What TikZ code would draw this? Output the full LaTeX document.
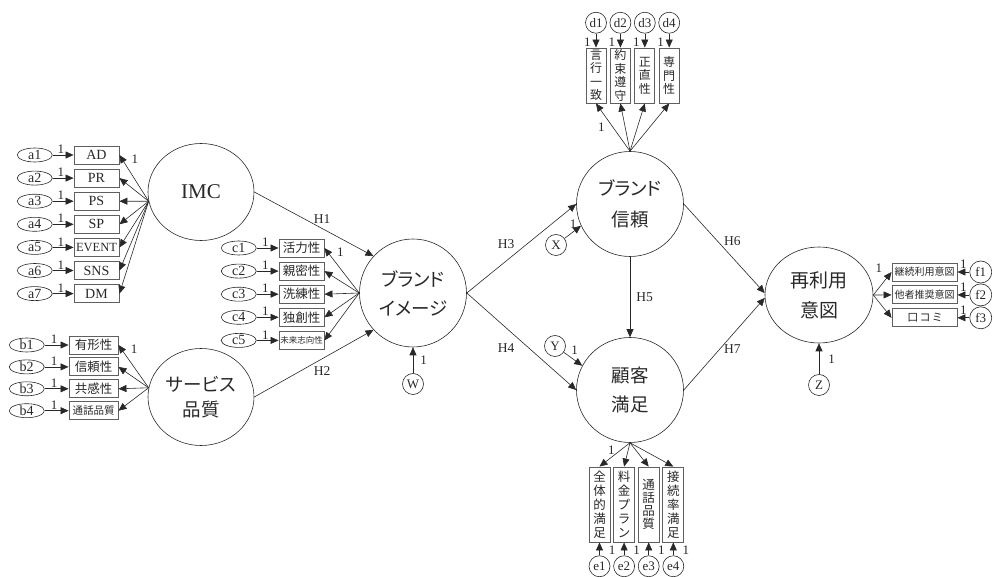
\documentclass[tikz,border=0pt]{standalone}
\usepackage{fontspec}
\setmainfont{Liberation Serif}
\newfontfamily\jp[RawFeature=+palt]{Noto Sans CJK JP}
\usetikzlibrary{arrows.meta, positioning, shapes.geometric}
\definecolor{inkgray}{RGB}{40,40,40}
\definecolor{boxgray}{RGB}{95,95,95}

\begin{document}
\begin{tikzpicture}[
    x=1pt, y=-1pt,
    >={Triangle[length=8pt,width=7pt]},
    every node/.style={text=inkgray},
    latent/.style={ellipse, draw=inkgray, line width=0.6pt, inner sep=0pt, align=center, font=\fontsize{21}{21}\selectfont},
    latentjp/.style={latent, font=\jp\fontsize{18.5}{29}\selectfont},
    obsbox/.style={draw=boxgray, line width=0.9pt, minimum width=45pt, minimum height=18pt, inner sep=1pt, font=\fontsize{14}{14}\selectfont},
    jpbox/.style={obsbox, font=\jp\fontsize{12.5}{13}\selectfont},
    vbox/.style={draw=boxgray, line width=0.9pt, minimum width=20pt, inner sep=1pt, align=center, font=\jp\fontsize{12}{13.5}\selectfont},
    errell/.style={ellipse, draw=inkgray, line width=0.6pt, minimum width=35pt, minimum height=14pt, inner sep=0pt, font=\fontsize{14}{14}\selectfont},
    errcirc/.style={circle, draw=inkgray, line width=0.6pt, minimum size=21pt, inner sep=0pt, font=\fontsize{13}{13}\selectfont},
    link/.style={->, draw=inkgray, line width=0.6pt},
    one/.style={font=\fontsize{13}{13}\selectfont, inner sep=1pt},
    hyp/.style={font=\fontsize{13.5}{13.5}\selectfont, inner sep=1pt},
]
\useasboundingbox (0,0) rectangle (994,577);

% === Latent variables ===
\node[latent, minimum width=106pt, minimum height=97pt] (imc) at (201,192) {IMC};
\node[latentjp, minimum width=106pt, minimum height=97pt, font=\jp\fontsize{18.5}{25}\selectfont] (svc) at (201,397) {サービス\\品質};
\node[latentjp, minimum width=107pt, minimum height=108pt] (bimg) at (413,293) {ブランド\\イメージ};
\node[latentjp, minimum width=107pt, minimum height=105pt, font=\jp\fontsize{18.5}{31}\selectfont] (trust) at (630,204) {ブランド\\信頼};
\node[latentjp, minimum width=107pt, minimum height=105pt] (sat) at (630,390) {顧客\\満足};
\node[latentjp, minimum width=108pt, minimum height=96pt, font=\jp\fontsize{19}{30}\selectfont] (reuse) at (819,295) {再利用\\意図};

% === IMC indicators ===
\node[obsbox] (ad) at (96.5,155) {AD};
\node[obsbox, below=4.2pt of ad] (pr) {PR};
\node[obsbox, below=4.2pt of pr] (ps) {PS};
\node[obsbox, below=4.2pt of ps] (sp) {SP};
\node[obsbox, below=4.2pt of sp, font=\fontsize{12.5}{12.5}\selectfont] (event) {EVENT};
\node[obsbox, below=4.2pt of event] (sns) {SNS};
\node[obsbox, below=4.2pt of sns] (dm) {DM};
\node[errell, left=21pt of ad] (a1) {a1};
\node[errell, left=21pt of pr] (a2) {a2};
\node[errell, left=21pt of ps] (a3) {a3};
\node[errell, left=21pt of sp] (a4) {a4};
\node[errell, left=21pt of event] (a5) {a5};
\node[errell, left=21pt of sns] (a6) {a6};
\node[errell, left=21pt of dm] (a7) {a7};

% === Service quality indicators ===
\node[jpbox, minimum width=49pt] (tangible) at (93.5,345) {有形性};
\node[jpbox, minimum width=49pt, below=3pt of tangible] (reliab) {信頼性};
\node[jpbox, minimum width=49pt, below=3pt of reliab] (empathy) {共感性};
\node[jpbox, minimum width=49pt, below=3pt of empathy, font=\jp\fontsize{10.5}{11}\selectfont] (callq) {通話品質};
\node[errell, left=24pt of tangible] (b1) {b1};
\node[errell, left=24pt of reliab] (b2) {b2};
\node[errell, left=24pt of empathy] (b3) {b3};
\node[errell, left=24pt of callq] (b4) {b4};

% === Brand image indicators ===
\node[jpbox] (vital) at (301.5,248) {活力性};
\node[jpbox, below=4.2pt of vital] (intim) {親密性};
\node[jpbox, below=4.2pt of intim] (refine) {洗練性};
\node[jpbox, below=4.2pt of refine] (origin) {独創性};
\node[jpbox, below=4.2pt of origin, font=\jp\fontsize{8.5}{9}\selectfont] (future) {未来志向性};
\node[errell, left=22pt of vital] (c1) {c1};
\node[errell, left=22pt of intim] (c2) {c2};
\node[errell, left=22pt of refine] (c3) {c3};
\node[errell, left=22pt of origin] (c4) {c4};
\node[errell, left=22pt of future] (c5) {c5};

% === Brand trust indicators (top) ===
\node[vbox, minimum height=55pt] (consist) at (596,75.5) {言\\行\\一\\致};
\node[vbox, minimum height=55pt, right=3.5pt of consist] (promise) {約\\束\\遵\\守};
\node[vbox, minimum height=55pt, right=3.5pt of promise] (honest) {正\\直\\性};
\node[vbox, minimum height=55pt, right=3.5pt of honest] (expert) {専\\門\\性};
\node[errcirc, above=14pt of consist] (d1) {d1};
\node[errcirc, above=14pt of promise] (d2) {d2};
\node[errcirc, above=14pt of honest] (d3) {d3};
\node[errcirc, above=14pt of expert] (d4) {d4};

% === Customer satisfaction indicators (bottom) ===
\node[vbox, minimum width=21pt, minimum height=75pt, font=\jp\fontsize{12.5}{14}\selectfont] (overall) at (599.5,504.5) {全\\体\\的\\満\\足};
\node[vbox, minimum width=21pt, minimum height=75pt, font=\jp\fontsize{12.5}{14}\selectfont, right=2.7pt of overall] (plan) {料\\金\\プ\\ラ\\ン};
\node[vbox, minimum width=21pt, minimum height=75pt, font=\jp\fontsize{12.5}{13}\selectfont, right=2.7pt of plan] (callqual) {通\\話\\品\\質};
\node[vbox, minimum width=21pt, minimum height=75pt, font=\jp\fontsize{12.5}{14}\selectfont, right=2.7pt of callqual] (connect) {接\\続\\率\\満\\足};
\node[errcirc, below=13pt of overall] (e1) {e1};
\node[errcirc, below=13pt of plan] (e2) {e2};
\node[errcirc, below=13pt of callqual] (e3) {e3};
\node[errcirc, below=13pt of connect] (e4) {e4};

% === Reuse intention indicators (right) ===
\node[jpbox, minimum width=65pt, font=\jp\fontsize{10}{10}\selectfont] (contin) at (924.5,272) {継続利用意図};
\node[jpbox, minimum width=65pt, font=\jp\fontsize{10}{10}\selectfont, below=4pt of contin] (recomm) {他者推奨意図};
\node[jpbox, minimum width=65pt, font=\jp\fontsize{11}{11}\selectfont, below=4pt of recomm] (wom) {口\,コ\,ミ};
\node[errcirc, minimum size=22pt, right=12pt of contin] (f1) {f1};
\node[errcirc, minimum size=22pt, right=12pt of recomm] (f2) {f2};
\node[errcirc, minimum size=22pt, right=12pt of wom] (f3) {f3};

% === Disturbances ===
\node[errcirc] (ex) at (556,245) {X};
\node[errcirc] (ey) at (555,346) {Y};
\node[errcirc] (ew) at (413,384) {W};
\node[errcirc] (ez) at (819,385) {Z};

% === Fan points ===
\coordinate (imcfan) at (imc.190);
\coordinate (svcfan) at (svc.170);

% IMC loadings
\draw[link] (imcfan) -- node[one, pos=0.9, right=8pt] {1} (ad.east);
\draw[link] (imcfan) -- (pr.east);
\draw[link] (imcfan) -- (ps.east);
\draw[link] (imcfan) -- (sp.east);
\draw[link] (imcfan) -- (event.east);
\draw[link] (imcfan) -- (sns.east);
\draw[link] (imcfan) -- (dm.east);
\draw[link] (a1) -- node[one, above, pos=0.4] {1} (ad);
\draw[link] (a2) -- node[one, above, pos=0.4] {1} (pr);
\draw[link] (a3) -- node[one, above, pos=0.4] {1} (ps);
\draw[link] (a4) -- node[one, above, pos=0.4] {1} (sp);
\draw[link] (a5) -- node[one, above, pos=0.4] {1} (event);
\draw[link] (a6) -- node[one, above, pos=0.4] {1} (sns);
\draw[link] (a7) -- node[one, above, pos=0.4] {1} (dm);

% Service quality loadings
\draw[link] (svcfan) -- node[one, pos=0.9, right=8pt] {1} (tangible.east);
\draw[link] (svcfan) -- (reliab.east);
\draw[link] (svcfan) -- (empathy.east);
\draw[link] (svcfan) -- (callq.east);
\draw[link] (b1) -- node[one, above, pos=0.4] {1} (tangible);
\draw[link] (b2) -- node[one, above, pos=0.4] {1} (reliab);
\draw[link] (b3) -- node[one, above, pos=0.4] {1} (empathy);
\draw[link] (b4) -- node[one, above, pos=0.4] {1} (callq);

% Brand image loadings
\draw[link] (bimg.west) -- node[one, pos=0.9, right=8pt] {1} (vital.east);
\draw[link] (bimg.west) -- (intim.east);
\draw[link] (bimg.west) -- (refine.east);
\draw[link] (bimg.west) -- (origin.east);
\draw[link] (bimg.west) -- (future.east);
\draw[link] (c1) -- node[one, above, pos=0.4] {1} (vital);
\draw[link] (c2) -- node[one, above, pos=0.4] {1} (intim);
\draw[link] (c3) -- node[one, above, pos=0.4] {1} (refine);
\draw[link] (c4) -- node[one, above, pos=0.4] {1} (origin);
\draw[link] (c5) -- node[one, above, pos=0.4] {1} (future);

% Brand trust loadings
\draw[link] (trust.north) -- node[one, pos=0.5, left=7pt] {1} (consist.south);
\draw[link] (trust.north) -- (promise.south);
\draw[link] (trust.north) -- (honest.south);
\draw[link] (trust.north) -- (expert.south);
\draw[link] (d1) -- node[one, pos=0.6, left=4pt] {1} (consist);
\draw[link] (d2) -- node[one, pos=0.6, left=4pt] {1} (promise);
\draw[link] (d3) -- node[one, pos=0.6, left=4pt] {1} (honest);
\draw[link] (d4) -- node[one, pos=0.6, left=4pt] {1} (expert);

% Customer satisfaction loadings
\draw[link] (sat.south) -- node[one, pos=0.3, left=5pt] {1} (overall.north);
\draw[link] (sat.south) -- (plan.north);
\draw[link] (sat.south) -- (callqual.north);
\draw[link] (sat.south) -- (connect.north);
\draw[link] (e1) -- node[one, pos=0.4, right=8pt] {1} (overall);
\draw[link] (e2) -- node[one, pos=0.4, right=8pt] {1} (plan);
\draw[link] (e3) -- node[one, pos=0.4, right=8pt] {1} (callqual);
\draw[link] (e4) -- node[one, pos=0.4, right=8pt] {1} (connect);

% Reuse intention loadings
\draw[link] (reuse.east) -- node[one, pos=0.3, above=14pt] {1} (contin.west);
\draw[link] (reuse.east) -- (recomm.west);
\draw[link] (reuse.east) -- (wom.west);
\draw[link] (f1) -- node[one, above=2pt, pos=0.5] {1} (contin);
\draw[link] (f2) -- node[one, above=2pt, pos=0.5] {1} (recomm);
\draw[link] (f3) -- node[one, above=2pt, pos=0.5] {1} (wom);

% Disturbance paths
\draw[link] (ex) -- node[one, pos=0.75, above left=-1pt] {1} (trust.204);
\draw[link] (ey) -- node[one, pos=0.3, above right=1pt] {1} (sat.153);
\draw[link] (ew) -- node[one, right=6pt] {1} (bimg.south);
\draw[link] (ez) -- node[one, right=8pt] {1} (reuse.south);

% === Structural paths ===
\draw[link] (imc.east) -- node[hyp, pos=0.57, above=4pt] {H1} (bimg.137);
\draw[link] (svc.east) -- node[hyp, pos=0.57, below=7pt] {H2} (bimg.223);
\draw[link] (bimg.east) -- node[hyp, pos=0.36, above=11pt] {H3} (trust.west);
\draw[link] (bimg.east) -- node[hyp, pos=0.36, below=14pt] {H4} (sat.west);
\draw[link] (trust.south) -- node[hyp, right=5pt] {H5} (sat.north);
\draw[link] (trust.east) -- node[hyp, pos=0.6, above=11pt] {H6} (reuse.178);
\draw[link] (sat.east) -- node[hyp, pos=0.6, below=9pt] {H7} (reuse.183);

\end{tikzpicture}
\end{document}
